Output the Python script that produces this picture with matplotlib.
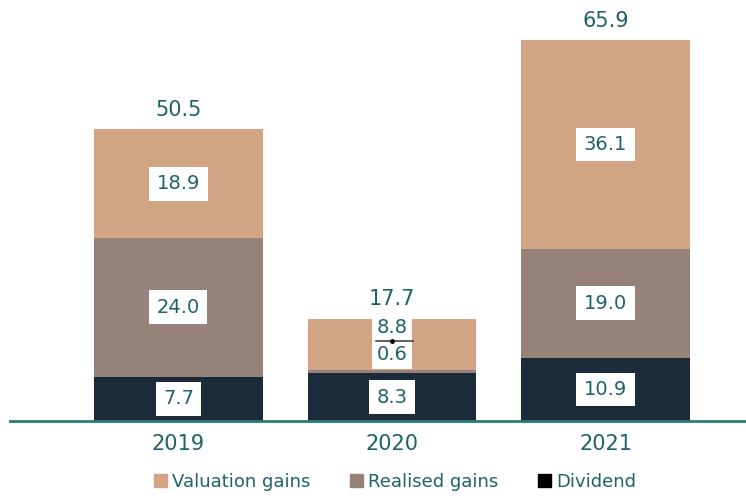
import matplotlib.pyplot as plt
from matplotlib.patches import Patch

years = ["2019", "2020", "2021"]
dividend = [7.7, 8.3, 10.9]
realised = [24.0, 0.6, 19.0]
valuation = [18.9, 8.8, 36.1]
totals = [50.5, 17.7, 65.9]

c_val = "#D4A585"
c_real = "#968279"
c_div = "#1B2B3A"
teal = "#1F6367"

fig = plt.figure(figsize=(7.46, 5.01), dpi=100)
ax = fig.add_axes([10 / 746, 80 / 501, 736 / 746, 421 / 501])
x = list(range(len(years)))
w = 0.79

ax.bar(x, dividend, w, color=c_div)
ax.bar(x, realised, w, bottom=dividend, color=c_real)
bot2 = [d + r for d, r in zip(dividend, realised)]
ax.bar(x, valuation, w, bottom=bot2, color=c_val)

box = dict(boxstyle="square,pad=0.38", fc="white", ec="none")
for i in x:
    segs = [(dividend[i], 0), (realised[i], dividend[i]), (valuation[i], bot2[i])]
    for j, (v, b) in enumerate(segs):
        if years[i] == "2020" and j > 0:
            continue
        ax.text(i, b + v / 2, f"{v:.1f}", ha="center", va="center",
                fontsize=14, color=teal, bbox=box)
    ax.annotate(f"{totals[i]:.1f}", (i, totals[i]), xytext=(0, 7),
                textcoords="offset points", ha="center", va="bottom",
                fontsize=15, color=teal)

# small segments of 2020: labels pushed up, joined by a leader line
i = years.index("2020")
small = dict(ha="center", va="center", fontsize=14, color=teal,
             bbox=dict(boxstyle="square,pad=0.22", fc="white", ec="none"))
ax.annotate(f"{valuation[i]:.1f}", (i, bot2[i] + valuation[i] / 2), xytext=(0, 12),
            textcoords="offset points", **small)
ax.annotate(f"{realised[i]:.1f}", (i, dividend[i] + realised[i] / 2), xytext=(0, 12),
            textcoords="offset points", **small)
yl = bot2[i] + 5.0
ax.plot([i - 0.075, i + 0.1], [yl, yl], color="#333333", lw=1.1, zorder=10)
ax.plot(i, yl, "o", color="black", ms=2.5, zorder=11)

ax.set_xlim(-0.789, 2.658)
ax.set_ylim(0, 73)
for s in ["top", "right", "left"]:
    ax.spines[s].set_visible(False)
ax.spines["bottom"].set_color("#2B7A78")
ax.spines["bottom"].set_linewidth(2)
ax.set_yticks([])
ax.set_xticks(x)
ax.set_xticklabels(years, fontsize=15, color=teal)
ax.tick_params(axis="x", length=0, pad=9)

handles = [Patch(color=c_val), Patch(color=c_real), Patch(color="black")]
fig.legend(handles, ["Valuation gains", "Realised gains", "Dividend"],
           loc="lower center", bbox_to_anchor=(0.53, -0.012), ncol=3, frameon=False,
           fontsize=13, labelcolor=teal, handlelength=0.7, handleheight=0.7,
           handletextpad=0.3, columnspacing=2.2)

fig.savefig("out.png", dpi=100)
